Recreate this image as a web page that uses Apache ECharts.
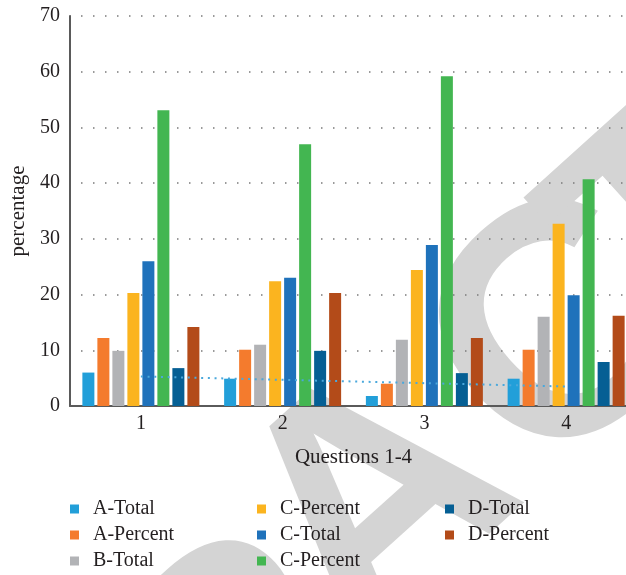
<!DOCTYPE html>
<html>
<head>
<meta charset="utf-8">
<script src="https://cdn.jsdelivr.net/npm/echarts@6/dist/echarts.min.js"></script>
<style>
  html, body { margin: 0; padding: 0; background: #fff; }
  #chart { width: 626px; height: 575px; }
</style>
</head>
<body>
<div id="chart"></div>
<script>
// Questions on the x axis, percentages per answer group
const questions = ['1', '2', '3', '4'];

const aTotal    = [6.0, 4.9, 1.8, 4.9];
const aPercent  = [12.2, 10.1, 4.0, 10.1];
const bTotal    = [9.9, 11.0, 11.9, 16.0];
const cPercent  = [20.3, 22.4, 24.4, 32.7];
const cTotal    = [26.0, 23.0, 28.9, 19.9];
const cPercent2 = [53.1, 47.0, 59.2, 40.7];
const dTotal    = [6.8, 9.9, 5.9, 7.9];
const dPercent  = [14.2, 20.3, 12.2, 16.2];

// dotted trend line over the A-Total bars (end points only)
const aTotalTrend = [5.3, null, null, 3.5];

const yTicks = { min: 0, max: 70, step: 10 };

const seriesDefs = [
  { name: 'A-Total',       data: aTotal,    color: '#229fd9' },
  { name: 'A-Percent',     data: aPercent,  color: '#f47b2d' },
  { name: 'B-Total',       data: bTotal,    color: '#b2b3b6' },
  { name: 'C-Percent',     data: cPercent,  color: '#fbb41f' },
  { name: 'C-Total',       data: cTotal,    color: '#1f72bb' },
  { name: 'C-Percent (2)', data: cPercent2, color: '#43b651' },
  { name: 'D-Total',       data: dTotal,    color: '#055f94' },
  { name: 'D-Percent',     data: dPercent,  color: '#b34b19' }
];

const serif = '"Liberation Serif", "Times New Roman", serif';
const ink = '#231f20';

// Diagonal stamp behind the plot: letters laid out along a rotated baseline
const stampLetters = ['R', 'E', 'T', 'R', 'A', 'C', 'T', 'E', 'D'];
const stampCenters = [-935, -710, -498, -273, -57, 196, 354, 565, 794];
const stampShift   = [0, 0, 0, 38, 0, 0, 0, 0, 0];
const stampAngle = 42 * Math.PI / 180;
const stampMid = 633;

const chart = echarts.init(document.getElementById('chart'), null, { renderer: 'canvas' });

function legendColumn(names, left) {
  return {
    orient: 'vertical',
    left: left,
    top: 499,
    padding: 0,
    itemGap: 6,
    itemWidth: 9,
    itemHeight: 9,
    icon: 'rect',
    selectedMode: false,
    data: names,
    formatter: function (n) { return n.replace(/ \(2\)$/, ''); },
    textStyle: {
      fontFamily: serif,
      fontSize: 20,
      lineHeight: 20,
      color: ink,
      padding: [0, 0, 0, 9]
    }
  };
}

const series = seriesDefs.map(function (s) {
  return {
    name: s.name,
    type: 'bar',
    data: s.data,
    barWidth: 12,
    barGap: '25%',
    itemStyle: { color: s.color },
    emphasis: { disabled: true }
  };
});

series.push({
  name: 'A-Total trend',
  type: 'line',
  data: aTotalTrend,
  connectNulls: true,
  symbol: 'none',
  silent: true,
  z: 3,
  lineStyle: { color: '#4aa8dc', width: 2, type: [2, 4.7] }
});

chart.setOption({
  animation: false,
  backgroundColor: '#ffffff',
  textStyle: { fontFamily: serif },
  graphic: [
    {
      type: 'group',
      x: 0,
      y: 0,
      rotation: stampAngle,
      z: -10,
      silent: true,
      children: stampLetters.map(function (ch, i) {
        return {
          type: 'text',
          x: stampCenters[i],
          y: stampMid + stampShift[i],
          z: -10,
          style: {
            text: ch,
            fontFamily: '"Liberation Sans", Arial, sans-serif',
            fontWeight: 'bold',
            fontSize: 330,
            fill: '#d4d4d4',
            align: 'center',
            verticalAlign: 'middle'
          }
        };
      })
    }
  ],
  grid: {
    left: 70,
    right: -11,
    top: 16,
    bottom: 169,
    containLabel: false,
    outerBoundsMode: 'none'
  },
  legend: [
    legendColumn(['A-Total', 'A-Percent', 'B-Total'], 70),
    legendColumn(['C-Percent', 'C-Total', 'C-Percent (2)'], 257),
    legendColumn(['D-Total', 'D-Percent'], 445)
  ],
  xAxis: {
    type: 'category',
    data: questions,
    name: 'Questions 1-4',
    nameLocation: 'middle',
    nameGap: 41,
    nameTextStyle: { fontFamily: serif, fontSize: 21, color: ink },
    axisLine: { show: true, lineStyle: { color: '#5a5a5a', width: 2 } },
    axisTick: { show: false },
    axisLabel: { fontFamily: serif, fontSize: 20, color: ink, margin: 8 },
    splitLine: { show: false }
  },
  yAxis: {
    type: 'value',
    min: yTicks.min,
    max: yTicks.max,
    interval: yTicks.step,
    name: 'percentage',
    nameLocation: 'middle',
    nameGap: 40,
    nameTextStyle: { fontFamily: serif, fontSize: 21, color: ink },
    axisLine: { show: true, lineStyle: { color: '#5a5a5a', width: 2 } },
    axisTick: { show: false },
    axisLabel: { fontFamily: serif, fontSize: 20, color: ink, margin: 10 },
    splitLine: {
      show: true,
      lineStyle: { color: '#7a7a7a', width: 1.5, type: [1.5, 10.5], dashOffset: 1 }
    }
  },
  series: series
});
</script>
</body>
</html>
